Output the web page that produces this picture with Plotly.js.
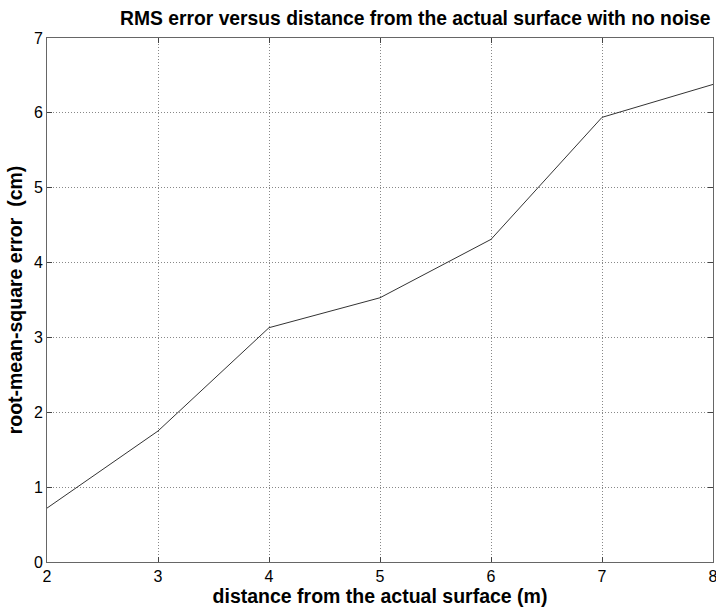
<!DOCTYPE html>
<html>
<head>
<meta charset="utf-8">
<script src="https://cdn.plot.ly/plotly-3.0.1.min.js"></script>
<style>html,body{margin:0;padding:0;background:#fff;}#chart{width:716px;height:611px;}</style>
</head>
<body>
<div id="chart"></div>
<script>
const distance = [2, 3, 4, 5, 6, 7, 8];
const rmsError = [0.72, 1.75, 3.13, 3.53, 4.31, 5.94, 6.38];
const xTicks = [2, 3, 4, 5, 6, 7, 8];
const yTicks = [0, 1, 2, 3, 4, 5, 6, 7];

const trace = {
  x: distance, y: rmsError, type: 'scatter', mode: 'lines',
  line: {color: '#333', width: 1}, hoverinfo: 'skip'
};
const axisCommon = {
  showline: true, linecolor: '#666', linewidth: 1, mirror: 'ticks',
  ticks: 'inside', ticklen: 5, tickcolor: '#444',
  showgrid: true, gridcolor: '#888', griddash: '1px,2px', gridwidth: 1,
  zeroline: false, ticklabeloverflow: 'allow',
  tickfont: {family: 'Liberation Sans, Arial, sans-serif', size: 16, color: '#000'}
};
const layout = {
  width: 716, height: 611,
  margin: {l: 47, r: 3, t: 38, b: 49},
  paper_bgcolor: '#fff', plot_bgcolor: '#fff',
  showlegend: false,
  title: {text: 'RMS error versus distance from the actual surface with no noise',
    font: {family: 'Liberation Sans, Arial, sans-serif', size: 19.3, color: '#000', weight: 'bold'},
    x: 0.58, xanchor: 'center', y: 0.97, yanchor: 'middle'},
  xaxis: Object.assign({}, axisCommon, {
    range: [2, 8], tickvals: xTicks, ticktext: xTicks.map(String),
    title: {text: 'distance from the actual surface (m)', standoff: 4,
      font: {family: 'Liberation Sans, Arial, sans-serif', size: 19.5, color: '#000', weight: 'bold'}}
  }),
  yaxis: Object.assign({}, axisCommon, {
    range: [0, 7], tickvals: yTicks, ticktext: yTicks.map(String),
    title: {text: 'root-mean-square error  (cm)', standoff: 6,
      font: {family: 'Liberation Sans, Arial, sans-serif', size: 19.5, color: '#000', weight: 'bold'}}
  })
};
Plotly.newPlot('chart', [trace], layout, {displayModeBar: false, staticPlot: true});
</script>
</body>
</html>
